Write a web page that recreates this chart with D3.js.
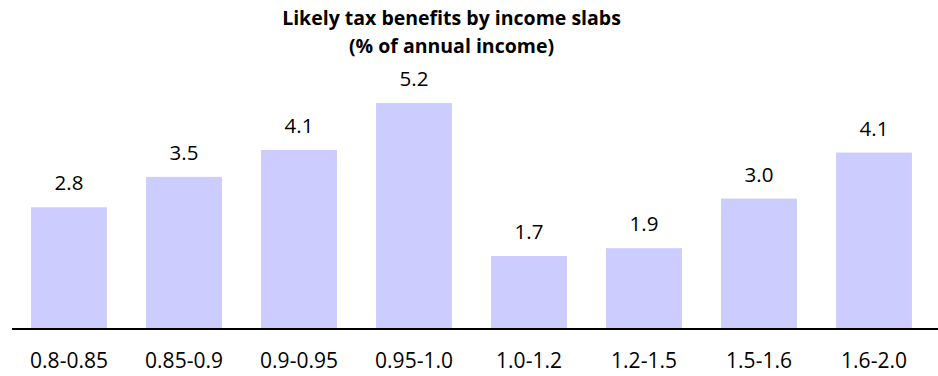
<!DOCTYPE html>
<html>
<head>
<meta charset="utf-8">
<script src="https://cdn.jsdelivr.net/npm/d3@7"></script>
<style>
  body { margin: 0; background: #fff; }
  text { font-family: "Open Sans", sans-serif; fill: #000; }
</style>
</head>
<body>
<div id="chart"></div>
<script>
"use strict";

// data
var slabs = ["0.8-0.85", "0.85-0.9", "0.9-0.95", "0.95-1.0", "1.0-1.2", "1.2-1.5", "1.5-1.6", "1.6-2.0"];
var benefits = [2.8, 3.5, 4.12, 5.2, 1.68, 1.86, 3.0, 4.06];
var titleLines = ["Likely tax benefits by income slabs", "(% of annual income)"];

var width = 938, height = 376;
var baseY = 329;

var svg = d3.select("#chart")
            .append("svg")
            .attr("width", width)
            .attr("height", height);

// scales
var x = d3.scaleBand()
          .domain(slabs)
          .range([11.5, 931.5])
          .paddingInner(0.34)
          .paddingOuter(0.17);

var y = d3.scaleLinear()
          .domain([0, 5.2])
          .range([baseY, 103]);

// bars
svg.selectAll("rect.bar")
   .data(benefits)
   .enter()
   .append("rect")
   .attr("class", "bar")
   .attr("x", function(d, i) { return x(slabs[i]); })
   .attr("y", function(d) { return y(d); })
   .attr("width", x.bandwidth())
   .attr("height", function(d) { return baseY - y(d); })
   .attr("fill", "#ccccff");

// value labels
svg.selectAll("text.val")
   .data(benefits)
   .enter()
   .append("text")
   .attr("class", "val")
   .attr("x", function(d, i) { return x(slabs[i]) + x.bandwidth() / 2; })
   .attr("y", function(d) { return y(d) - 17; })
   .attr("text-anchor", "middle")
   .style("font-size", "20.5px")
   .text(function(d) { return d.toFixed(1); });

// x axis
var xAxis = d3.axisBottom(x).tickSize(0).tickPadding(24);
var gx = svg.append("g")
            .attr("transform", "translate(0," + baseY + ")")
            .call(xAxis);
gx.select(".domain").attr("d", "M12,0H938").attr("stroke", "#000").attr("stroke-width", 2);
gx.selectAll("text").style("font-size", "21px").style("font-family", "'Open Sans', sans-serif");

// title
svg.selectAll("text.title")
   .data(titleLines)
   .enter()
   .append("text")
   .attr("class", "title")
   .attr("x", 451.5)
   .attr("y", function(d, i) { return 25 + i * 28; })
   .attr("text-anchor", "middle")
   .style("font-size", "19.5px")
   .style("font-weight", "bold")
   .text(function(d) { return d; });
</script>
</body>
</html>
